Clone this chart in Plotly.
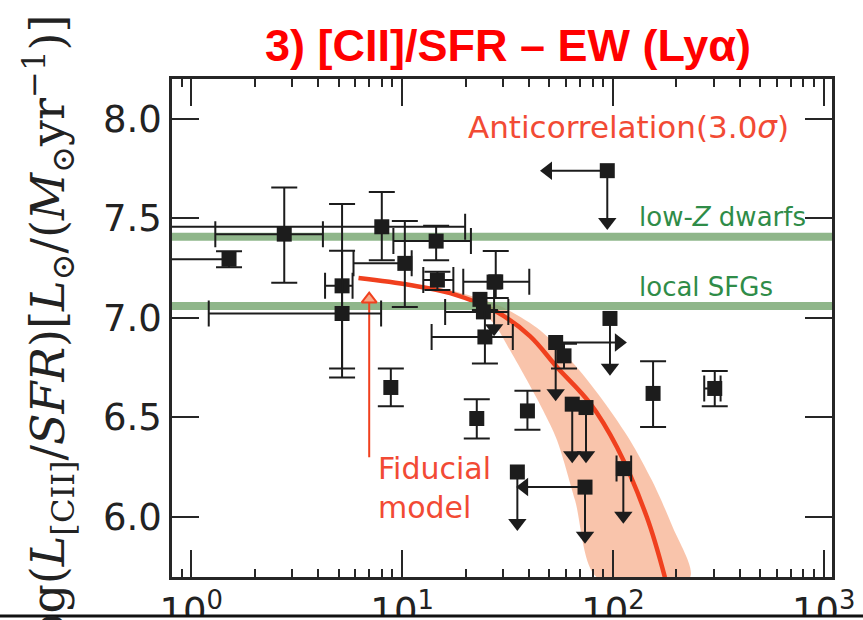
import plotly.graph_objects as go

# ---------------------------------------------------------------------------
# Detected galaxies: Lya equivalent width (A) vs log L[CII]/SFR
# ---------------------------------------------------------------------------
det_ew       = [1.51, 2.76, 5.19, 5.19, 8.01, 14.5, 10.3, 14.7, 8.84, 22.6, 39.3, 23.4, 24.3, 24.7, 27.8, 58.6, 155.0, 304.0]
det_ew_lo    = [0.5, 1.30, 4.31, 1.21, 0.5, 9.09, 5.88, 12.6, None, None, None, None, 16.0, 13.8, 19.5, None, None, 271.0]
det_ew_hi    = [None, 4.21, 5.82, 7.95, 19.9, 21.2, 11.1, 17.5, None, None, None, None, 31.9, 33.5, 40.1, None, None, 324.0]
det_ratio    = [7.295, 7.421, 7.161, 7.022, 7.458, 7.386, 7.274, 7.190, 6.650, 6.494, 6.532, 7.093, 7.030, 6.904, 7.181, 6.809, 6.620, 6.645]
det_ratio_lo = [7.255, 7.176, 6.745, 6.700, 7.290, 7.290, 7.055, 7.140, 6.556, 6.393, 6.438, None, None, 6.770, 7.100, 6.745, 6.451, 6.556]
det_ratio_hi = [7.335, 7.656, 7.572, 7.337, 7.633, 7.463, 7.487, 7.232, 6.745, 6.591, 6.633, None, None, 7.040, 7.336, 6.870, 6.782, 6.733]

# Upper limits on L[CII]/SFR (some also limits in EW)
lim_ew          = [94.0, 96.8, 53.5, 64.1, 74.5, 112.0, 35.2, 73.7, 27.3]
lim_ratio       = [7.740, 6.997, 6.876, 6.566, 6.549, 6.242, 6.225, 6.149, 7.180]
lim_ratio_arrow = [7.482, 6.749, 6.621, 6.309, 6.309, 6.005, 5.969, 5.904, 6.948]
lim_ew_arrow    = [49.2, None, 106.7, None, None, None, None, 37.9, None]
lim_ew_lo       = [None, None, None, None, None, 104.0, None, None, None]
lim_ew_hi       = [None, None, None, None, None, 122.0, None, None, None]

# Fiducial model curve and its uncertainty band
model_ew    = [6.21, 10.9, 16.9, 28.2, 40.4, 54.3, 77.8, 104.5, 144.9, 176.4]
model_ratio = [7.200, 7.165, 7.124, 7.029, 6.908, 6.752, 6.571, 6.349, 5.997, 5.695]
band_lo_ew    = [10.9, 13.58, 21.0, 27.6, 32.5, 39.1, 46.6, 54.3, 66.1, 84.0]
band_lo_ratio = [7.168, 7.149, 7.089, 6.963, 6.837, 6.686, 6.535, 6.385, 6.083, 5.695]
band_hi_ew    = [10.9, 16.9, 29.1, 45.1, 66.1, 91.6, 120.4, 153.0, 190.4, 232.0]
band_hi_ratio = [7.168, 7.139, 7.059, 6.938, 6.762, 6.571, 6.385, 6.183, 5.957, 5.695]

# Reference levels
dwarf_level = 7.408
sfg_level = 7.060

# Pointer to the fiducial model
pointer_ew = 6.98
pointer_from = 6.299
pointer_to = 7.094

x_major = [1, 10, 100, 1000]
x_major_text = ["10<sup>0</sup>", "10<sup>1</sup>", "10<sup>2</sup>", "10<sup>3</sup>"]
x_minor = [m * 10 ** k for k in range(-1, 3) for m in range(2, 10)]
y_major = [6.0, 6.5, 7.0, 7.5, 8.0]
y_major_text = ["6.0", "6.5", "7.0", "7.5", "8.0"]

x_range = [-0.0915, 3.039]
y_range = [5.697, 8.201]

BLACK = "#1c1c1c"
AXIS = "#262626"
RED = "#f0401e"
BAND = "rgba(246,160,120,0.62)"
GREEN_LINE = "rgba(118,166,112,0.82)"
GREEN_TEXT = "#2f8c48"
CAP = 13

fig = go.Figure()

# model band and curve
fig.add_trace(go.Scatter(
    x=band_lo_ew + band_hi_ew[::-1],
    y=band_lo_ratio + band_hi_ratio[::-1],
    mode="lines", fill="toself", fillcolor=BAND,
    line=dict(width=0, shape="spline", smoothing=0.8), hoverinfo="skip"))
fig.add_trace(go.Scatter(
    x=model_ew, y=model_ratio, mode="lines",
    line=dict(color=RED, width=4.5, shape="spline", smoothing=1.0), hoverinfo="skip"))

# reference bands (span the full x range)
for lvl in (dwarf_level, sfg_level):
    fig.add_trace(go.Scatter(
        x=[0.3, 3000], y=[lvl, lvl], mode="lines",
        line=dict(color=GREEN_LINE, width=8), hoverinfo="skip"))

# pointer to the fiducial model
fig.add_trace(go.Scatter(
    x=[pointer_ew, pointer_ew], y=[pointer_from, pointer_to], mode="lines",
    line=dict(color=RED, width=2), hoverinfo="skip"))
fig.add_trace(go.Scatter(
    x=[pointer_ew], y=[pointer_to], mode="markers",
    marker=dict(symbol="triangle-up", size=13, color="#f8a888",
                line=dict(color=RED, width=2)), hoverinfo="skip"))


def err_dict(val, lo, hi):
    if lo is None and hi is None:
        return None
    minus = val - lo if lo is not None else 0.0
    plus = hi - val if hi is not None else 0.0
    cap = CAP if (lo is not None and hi is not None) else 0
    return dict(type="data", symmetric=False, array=[plus], arrayminus=[minus],
                color=BLACK, thickness=2, width=cap)


# detections
for i in range(len(det_ew)):
    ex = err_dict(det_ew[i], det_ew_lo[i], det_ew_hi[i])
    ey = err_dict(det_ratio[i], det_ratio_lo[i], det_ratio_hi[i])
    kw = {}
    if ex is not None:
        kw["error_x"] = ex
    if ey is not None:
        kw["error_y"] = ey
    fig.add_trace(go.Scatter(
        x=[det_ew[i]], y=[det_ratio[i]], mode="markers",
        marker=dict(symbol="square", size=15, color=BLACK),
        hoverinfo="skip", **kw))

# upper limits: arrow shafts
shaft_x, shaft_y = [], []
for i in range(len(lim_ew)):
    shaft_x += [lim_ew[i], lim_ew[i], None]
    shaft_y += [lim_ratio[i], lim_ratio_arrow[i], None]
    if lim_ew_arrow[i] is not None:
        shaft_x += [lim_ew[i], lim_ew_arrow[i], None]
        shaft_y += [lim_ratio[i], lim_ratio[i], None]
fig.add_trace(go.Scatter(x=shaft_x, y=shaft_y, mode="lines",
                         line=dict(color=BLACK, width=2), hoverinfo="skip"))

# arrow heads
fig.add_trace(go.Scatter(
    x=lim_ew, y=lim_ratio_arrow, mode="markers",
    marker=dict(symbol="triangle-down", size=16, color=BLACK), hoverinfo="skip"))
for i in range(len(lim_ew)):
    if lim_ew_arrow[i] is not None:
        sym = "triangle-left" if lim_ew_arrow[i] < lim_ew[i] else "triangle-right"
        fig.add_trace(go.Scatter(
            x=[lim_ew_arrow[i]], y=[lim_ratio[i]], mode="markers",
            marker=dict(symbol=sym, size=16, color=BLACK), hoverinfo="skip"))

# limit markers
for i in range(len(lim_ew)):
    kw = {}
    ex = err_dict(lim_ew[i], lim_ew_lo[i], lim_ew_hi[i])
    if ex is not None:
        kw["error_x"] = ex
    fig.add_trace(go.Scatter(
        x=[lim_ew[i]], y=[lim_ratio[i]], mode="markers",
        marker=dict(symbol="square", size=15, color=BLACK),
        hoverinfo="skip", **kw))

tick_font = dict(family="DejaVu Sans", size=37, color="#222222")

fig.update_xaxes(
    type="log", range=x_range, automargin=False,
    tickvals=x_major, ticktext=x_major_text,
    ticks="inside", ticklen=27, tickwidth=2, tickcolor=AXIS,
    showline=True, linecolor=AXIS, linewidth=2.5, mirror="ticks",
    showgrid=False, zeroline=False, tickfont=tick_font,
    minor=dict(tickvals=x_minor, ticks="inside", ticklen=8, tickwidth=1.5,
               tickcolor=AXIS, showgrid=False))
fig.update_yaxes(
    range=y_range, automargin=False, tickvals=y_major, ticktext=y_major_text,
    ticks="inside", ticklen=27, tickwidth=2, tickcolor=AXIS,
    showline=True, linecolor=AXIS, linewidth=2.5, mirror="ticks",
    showgrid=False, zeroline=False, tickfont=tick_font)

L, R, T, B = 172, 31, 79, 43
W, H = 863, 620
pw, ph = W - L - R, H - T - B


def px(xp):
    return (xp - L) / pw


def py(yp):
    return (H - B - yp) / ph


annotations = [
    dict(text="3) [CII]/SFR – EW (Lyα)", x=px(508), y=py(45), xref="paper", yref="paper",
         showarrow=False, xanchor="center", yanchor="middle",
         font=dict(family="Liberation Sans", size=45, color="#ff0000", weight="bold")),
    dict(text="Anticorrelation(3.0<i>σ</i>)", x=px(466), y=py(127), xref="paper", yref="paper",
         showarrow=False, xanchor="left", yanchor="middle",
         font=dict(family="DejaVu Sans", size=31, color="#f24a34")),
    dict(text="low-<i>Z</i> dwarfs", x=px(637), y=py(217), xref="paper", yref="paper",
         showarrow=False, xanchor="left", yanchor="middle",
         font=dict(family="DejaVu Sans", size=26, color=GREEN_TEXT)),
    dict(text="local SFGs", x=px(637), y=py(287), xref="paper", yref="paper",
         showarrow=False, xanchor="left", yanchor="middle",
         font=dict(family="DejaVu Sans", size=26, color=GREEN_TEXT)),
    dict(text="Fiducial<br>model", x=px(376), y=py(488), xref="paper", yref="paper",
         showarrow=False, xanchor="left", yanchor="middle", align="left",
         font=dict(family="DejaVu Sans", size=30, color="#f24a34")),
    dict(text="log(<i>L</i><sub>[CII]</sub>/<i>SFR</i>)[<i>L</i><sub>⊙</sub>/(<i>M</i><sub>⊙</sub>yr<sup>−1</sup>)]",
         x=px(48), y=py(336), xref="paper", yref="paper", textangle=-90,
         showarrow=False, xanchor="center", yanchor="middle",
         font=dict(family="DejaVu Serif", size=46, color="#222222")),
]

shapes = [
    dict(type="rect", xref="paper", yref="paper", x0=px(-5), x1=px(W + 5), y0=py(617), y1=py(H + 30),
         fillcolor="white", line=dict(width=0), layer="above"),
    dict(type="line", xref="paper", yref="paper", x0=px(0), x1=px(W), y0=py(616), y1=py(616),
         line=dict(color="#111111", width=3), layer="above"),
]

fig.update_layout(
    width=W, height=H, margin=dict(l=L, r=R, t=T, b=B),
    plot_bgcolor="white", paper_bgcolor="white",
    showlegend=False, annotations=annotations, shapes=shapes)

fig.write_html("out.html")
